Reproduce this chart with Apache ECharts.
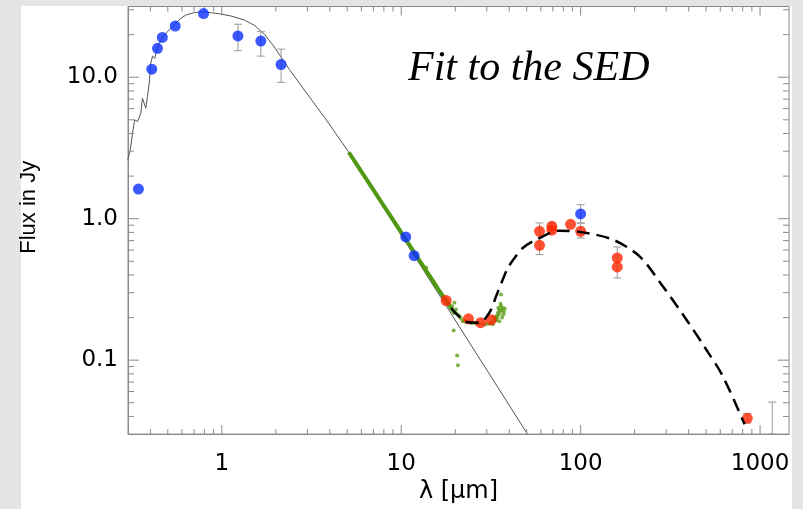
<!DOCTYPE html>
<html>
<head>
<meta charset="utf-8">
<script src="https://cdn.jsdelivr.net/npm/echarts@6/dist/echarts.min.js"></script>
<style>html,body{margin:0;padding:0;background:#e5e5e5;}#c{width:803px;height:509px;}</style>
</head>
<body>
<div id="c"></div>
<script>
// ---------- data ----------
const xMajor = [1, 10, 100, 1000];
const xMajorLabels = ['1', '10', '100', '1000'];
const xMinor = [0.4,0.5,0.6,0.7,0.8,0.9, 2,3,4,5,6,7,8,9, 20,30,40,50,60,70,80,90, 200,300,400,500,600,700,800,900];
const yMajor = [0.1, 1, 10];
const yMajorLabels = ['0.1', '1.0', '10.0'];
const yMinor = [0.04,0.05,0.06,0.07,0.08,0.09, 0.2,0.3,0.4,0.5,0.6,0.7,0.8,0.9, 2,3,4,5,6,7,8,9, 20,30];
const xMin = 0.3, xMax = 1450, yMin = 0.03, yMax = 31.62;

// stellar photosphere model (thin line)
const photoLam = [0.299,0.309,0.318,0.327,0.339,0.354,0.361,0.377,0.385,0.394,0.402,0.411,0.423,0.434,0.457,0.488,0.52,0.566,0.591,0.63,0.702,0.764,0.868,0.987,1.123,1.333,1.516,1.723,1.925,2.14,2.385,2.829,3.82,5.07,60];
const photoF   = [2.61,3.07,4.03,5.0,4.86,5.57,7.11,6.04,7.30,9.07,12.6,14.1,13.6,15.6,18.3,20.4,22.2,24.7,26.1,27.5,28.6,29.0,28.6,28.0,27.1,25.4,23.3,20.2,16.9,13.9,11.3,8.4,5.0,2.98,0.0213];

// photosphere + dust model (dashed)
const dustLam = [19.0,23.5,27.3,31.1,33.8,36.8,39.3,42.8,47.6,56.6,76.3,102.9,151.2,213,287,388,501,620,820];
const dustF   = [0.234,0.185,0.184,0.218,0.283,0.371,0.449,0.528,0.621,0.711,0.823,0.80,0.711,0.542,0.333,0.194,0.119,0.077,0.0352];

// IRS spectrum (green)
const specLam = [5.1,6,7,8,9,10,11,12,13,14,15,16,17,18,19,20];
const specF   = [2.95,2.15,1.60,1.23,0.98,0.80,0.665,0.56,0.48,0.415,0.365,0.32,0.287,0.258,0.232,0.212];
const specDotLam = [13.8,18.5,19.2,19.5,19.8,20.0,20.2,20.6,21.1,21.5,22.0,22.5,23.0,23.5,24.5,25.1,26.0,27.0,28.5,29.7,31.0,32.0,32.4,33.0,33.5,33.9,34.0,34.3,34.6,34.8,35.0,35.2,35.2,35.5,35.8,36.0,36.0,36.3,36.5,36.8,37.1,37.4,37.8,19.6,20.5,20.7];
const specDotF   = [0.449,0.245,0.240,0.222,0.254,0.215,0.228,0.210,0.205,0.198,0.188,0.190,0.186,0.187,0.183,0.184,0.182,0.181,0.180,0.179,0.181,0.185,0.179,0.199,0.190,0.194,0.205,0.200,0.216,0.235,0.210,0.228,0.188,0.220,0.250,0.241,0.291,0.225,0.200,0.234,0.210,0.220,0.232,0.162,0.108,0.092];

// photometry
const blueLam = [0.343,0.407,0.438,0.466,0.550,0.791,1.23,1.65,2.14,10.6,11.8,100];
const blueF   = [1.62,11.4,16.0,19.1,23.0,28.2,19.6,18.0,12.3,0.743,0.548,1.08];
const redLam  = [17.8,23.7,27.7,31.7,59,59,69.1,69.1,87.9,100,160,160,849];
const redF    = [0.264,0.196,0.184,0.193,0.814,0.648,0.883,0.83,0.912,0.814,0.528,0.456,0.0388];

// error bars: wavelength, low, high
const errLam  = [1.23,1.65,2.14,100,59,69.1,100,160,849,1170];
const errLow  = [15.4,14.1,9.2,0.93,0.557,0.80,0.73,0.381,0.036,0.03];
const errHigh = [23.7,21.0,15.8,1.255,0.933,0.93,0.933,0.631,0.042,0.0505];

// ---------- chart ----------
const pair = (a, b) => a.map((v, i) => [v, b[i]]);
const labelOf = (vals, labels) => v => {
  for (let i = 0; i < vals.length; i++) {
    if (Math.abs(Math.log10(vals[i]) - Math.log10(v)) < 1e-6) return labels[i];
  }
  return '';
};
const axisCol = '#8a8a8a';
const sansH = '"DejaVu Sans", Verdana, sans-serif';
const sansV = '"Liberation Sans", Arial, Helvetica, sans-serif';

// tick marks as thin rectangle symbols sitting on the frame, drawn inward
const tickItems = [];
const addX = (vals, len) => vals.forEach(v => {
  tickItems.push({ value: [v, yMin], symbolSize: [1, len], symbolOffset: [0, -len / 2] });
  tickItems.push({ value: [v, yMax], symbolSize: [1, len], symbolOffset: [0, len / 2] });
});
const addY = (vals, len) => vals.forEach(v => {
  tickItems.push({ value: [xMin, v], symbolSize: [len, 1], symbolOffset: [len / 2, 0] });
  tickItems.push({ value: [xMax, v], symbolSize: [len, 1], symbolOffset: [-len / 2, 0] });
});
addX(xMajor, 9); addX(xMinor, 5); addY(yMajor, 11); addY(yMinor, 6);

const errData = errLam.map((v, i) => [v, errLow[i], errHigh[i]]);

const option = {
  animation: false,
  backgroundColor: '#e5e5e5',
  graphic: [{ type: 'rect', z: -100, silent: true, shape: { x: 21, y: 6, width: 771, height: 503 }, style: { fill: '#ffffff' } }],
  title: { text: 'Fit to the SED', left: 403, top: 43,
    textStyle: { fontFamily: '"Liberation Serif", "Times New Roman", serif', fontStyle: 'italic', fontWeight: 'normal', fontSize: 42, color: '#000' } },
  grid: { left: 128, right: 14, top: 6.5, bottom: 73.5, containLabel: false,
          show: true, borderColor: axisCol, borderWidth: 1, backgroundColor: 'transparent' },
  xAxis: {
    type: 'log', logBase: 10, min: xMin, max: xMax, position: 'bottom',
    name: 'λ [μm]', nameLocation: 'middle', nameGap: 45,
    nameTextStyle: { color: '#000', fontSize: 24, fontFamily: sansH },
    axisLine: { show: true, lineStyle: { color: axisCol, width: 1 } },
    axisTick: { show: false },
    axisLabel: { show: true, customValues: xMajor, formatter: labelOf(xMajor, xMajorLabels),
                 color: '#000', fontSize: 23, fontFamily: sansH, margin: 18 },
    splitLine: { show: false }
  },
  yAxis: {
    type: 'log', logBase: 10, min: yMin, max: yMax, position: 'left',
    name: 'Flux in Jy', nameLocation: 'middle', nameGap: 88,
    nameTextStyle: { color: '#000', fontSize: 22, fontFamily: sansV, padding: [0, 0, 0, 26] },
    axisLine: { show: true, lineStyle: { color: axisCol, width: 1 } },
    axisTick: { show: false },
    axisLabel: { show: true, customValues: yMajor, formatter: labelOf(yMajor, yMajorLabels),
                 color: '#000', fontSize: 23, fontFamily: sansH, margin: 10 },
    splitLine: { show: false }
  },
  series: [
    { type: 'scatter', name: 'ticks', data: tickItems, symbol: 'rect', clip: false, silent: true,
      itemStyle: { color: axisCol, opacity: 1 }, z: 4 },
    { type: 'line', name: 'photosphere', data: pair(photoLam, photoF), showSymbol: false, symbol: 'none',
      lineStyle: { color: '#555', width: 1 }, clip: true, z: 2 },
    { type: 'line', name: 'spectrum', data: pair(specLam, specF), showSymbol: false, symbol: 'none',
      lineStyle: { color: '#4f9a12', width: 4 }, clip: true, z: 3 },
    { type: 'scatter', name: 'spectrumDots', data: pair(specDotLam, specDotF), symbol: 'circle', symbolSize: 4,
      itemStyle: { color: '#5ea01a' }, z: 3 },
    { type: 'custom', name: 'errors', data: errData, clip: true, z: 4,
      renderItem: (params, api) => {
        const x = api.value(0);
        const p1 = api.coord([x, api.value(1)]);
        const p2 = api.coord([x, api.value(2)]);
        const w = 4;
        return { type: 'group', children: [
          { type: 'line', shape: { x1: p1[0], y1: p1[1], x2: p2[0], y2: p2[1] }, style: { stroke: '#999', lineWidth: 1 } },
          { type: 'line', shape: { x1: p1[0] - w, y1: p1[1], x2: p1[0] + w, y2: p1[1] }, style: { stroke: '#999', lineWidth: 1 } },
          { type: 'line', shape: { x1: p2[0] - w, y1: p2[1], x2: p2[0] + w, y2: p2[1] }, style: { stroke: '#999', lineWidth: 1 } }
        ] };
      } },
    { type: 'scatter', name: 'blue', data: pair(blueLam, blueF), symbol: 'circle', symbolSize: 11,
      itemStyle: { color: '#0a30ff' }, z: 5 },
    { type: 'scatter', name: 'red', data: pair(redLam, redF), symbol: 'circle', symbolSize: 11,
      itemStyle: { color: '#ff2600' }, z: 5 },
    { type: 'line', name: 'dust', data: pair(dustLam, dustF), showSymbol: false, symbol: 'none', smooth: 0.3,
      lineStyle: { color: '#000', width: 2.5, type: [13, 7] }, clip: true, z: 6 }
  ]
};
const chart = echarts.init(document.getElementById('c'), null, { renderer: 'canvas' });
chart.setOption(option);
</script>
</body>
</html>
